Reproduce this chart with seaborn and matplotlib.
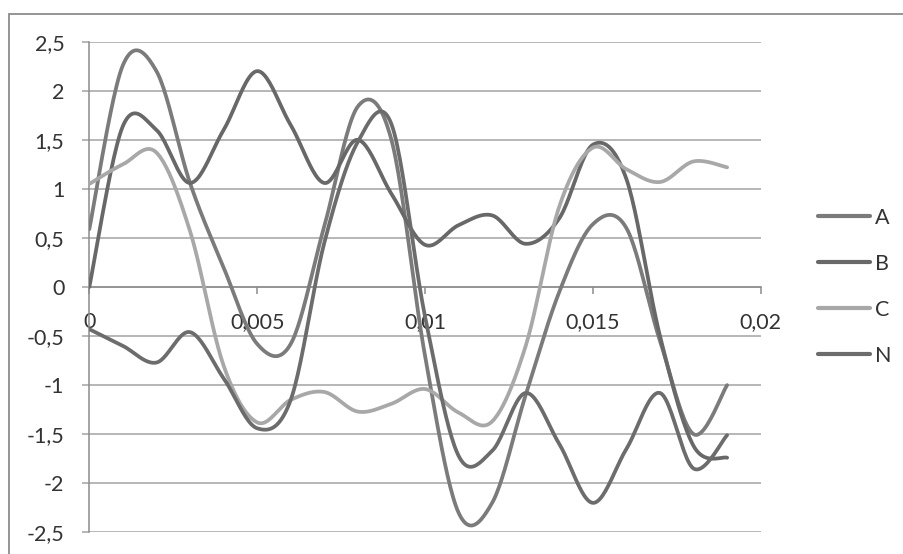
import numpy as np
import pandas as pd
import matplotlib
matplotlib.use("Agg")
import matplotlib.pyplot as plt
import matplotlib.patches as patches
import seaborn as sns

# time axis (s) and the four currents
time = [0.000, 0.001, 0.002, 0.003, 0.004, 0.005, 0.006, 0.007, 0.008, 0.009,
        0.010, 0.011, 0.012, 0.013, 0.014, 0.015, 0.016, 0.017, 0.018, 0.019]
a_vals = [0.59, 2.26, 2.20, 1.06, 0.20, -0.58, -0.58, 0.62, 1.84, 1.50,
          -0.70, -2.30, -2.20, -1.10, -0.05, 0.64, 0.60, -0.55, -1.50, -1.00]
b_vals = [0.00, 1.64, 1.60, 1.06, 1.60, 2.20, 1.65, 1.06, 1.50, 0.95,
          0.43, 0.63, 0.73, 0.44, 0.70, 1.45, 1.10, -0.50, -1.62, -1.74]
c_vals = [1.05, 1.25, 1.37, 0.57, -0.80, -1.38, -1.15, -1.07, -1.27, -1.19,
          -1.04, -1.28, -1.37, -0.60, 0.82, 1.42, 1.20, 1.07, 1.28, 1.22]
n_vals = [-0.43, -0.60, -0.77, -0.46, -0.93, -1.44, -1.15, 0.45, 1.48, 1.66,
          -0.30, -1.72, -1.67, -1.08, -1.60, -2.20, -1.65, -1.08, -1.85, -1.51]

names = ["A", "B", "C", "N"]
series = [a_vals, b_vals, c_vals, n_vals]
colors = ["#7b7b7b", "#686868", "#a8a8a8", "#6c6c6c"]

y_ticks = [-2.5, -2, -1.5, -1, -0.5, 0, 0.5, 1, 1.5, 2, 2.5]
y_labels = ["-2,5", "-2", "-1,5", "-1", "-0,5", "0", "0,5", "1", "1,5", "2", "2,5"]
x_ticks = [0, 0.005, 0.01, 0.015, 0.02]
x_labels = ["0", "0,005", "0,01", "0,015", "0,02"]


def smooth(xs, ys, n=24):
    # Excel style "smoothed line": Bezier segments with Catmull-Rom handles
    p = np.column_stack([xs, ys]).astype(float)
    ext = np.vstack([p[0], p, p[-1]])
    out = []
    s = np.linspace(0, 1, n, endpoint=False)[:, None]
    for i in range(len(p) - 1):
        p0, p1 = ext[i + 1], ext[i + 2]
        c1 = p0 + (ext[i + 2] - ext[i]) / 6
        c2 = p1 - (ext[i + 3] - ext[i + 1]) / 6
        seg = ((1 - s) ** 3) * p0 + 3 * ((1 - s) ** 2) * s * c1 + 3 * (1 - s) * s ** 2 * c2 + s ** 3 * p1
        out.append(seg)
    out.append(p[-1][None, :])
    out = np.vstack(out)
    return out[:, 0], out[:, 1]


sns.set_style("white")
plt.rcParams["font.family"] = ["Lato", "DejaVu Sans"]

fig = plt.figure(figsize=(9.04, 5.54), dpi=100)
ax = fig.add_axes([89.3 / 904, 1 - 532.3 / 554, (760.7 - 89.3) / 904, (532.3 - 41.7) / 554])

grid_c = "#a3a3a3"
for yt in y_ticks:
    ax.axhline(yt, color=grid_c, lw=1.1, zorder=0)

for name, vals, col in zip(names, series, colors):
    sx, sy = smooth(time, vals)
    df = pd.DataFrame({"t": sx, "v": sy})
    sns.lineplot(data=df, x="t", y="v", color=col, lw=2.7, sort=False,
                 estimator=None, label=name, ax=ax, zorder=3)

ax.set_xlim(0, 0.02)
ax.set_ylim(-2.5, 2.5)
ax.set_xticks(x_ticks)
ax.set_xticklabels(x_labels)
ax.set_yticks(y_ticks)
ax.set_yticklabels(y_labels)
ax.set_xlabel("")
ax.set_ylabel("")

for side in ["top", "right"]:
    ax.spines[side].set_visible(False)
ax.spines["left"].set_color("#8c8c8c")
ax.spines["left"].set_linewidth(1.1)
ax.spines["bottom"].set_position(("data", 0))
ax.spines["bottom"].set_color("#8c8c8c")
ax.spines["bottom"].set_linewidth(1.1)

ax.tick_params(axis="y", direction="out", length=5, width=1.1, color=grid_c,
               labelsize=15.5, labelcolor="#333333", pad=13, left=True)
ax.tick_params(axis="x", direction="out", length=5, width=1.1, color="#8c8c8c",
               labelsize=15.5, labelcolor="#333333", pad=13, bottom=True)

leg = ax.legend(loc="upper left", bbox_to_anchor=(818 / 904, 1 - 208 / 554),
                bbox_transform=fig.transFigure, frameon=False, fontsize=15.5,
                borderpad=0, borderaxespad=0, handlelength=2.4, handletextpad=0.25,
                labelspacing=1.2)
for h in leg.get_lines():
    h.set_linewidth(3)
for t in leg.get_texts():
    t.set_color("#333333")

# outer chart border (cropped on the right and bottom)
fig.add_artist(patches.Rectangle((9 / 904, -0.1), 1.2, 0.1 + 1 - 14 / 554,
                                 transform=fig.transFigure, fill=False,
                                 edgecolor="#8c8c8c", lw=1.3, clip_on=False))

fig.savefig("out.png", dpi=100)
